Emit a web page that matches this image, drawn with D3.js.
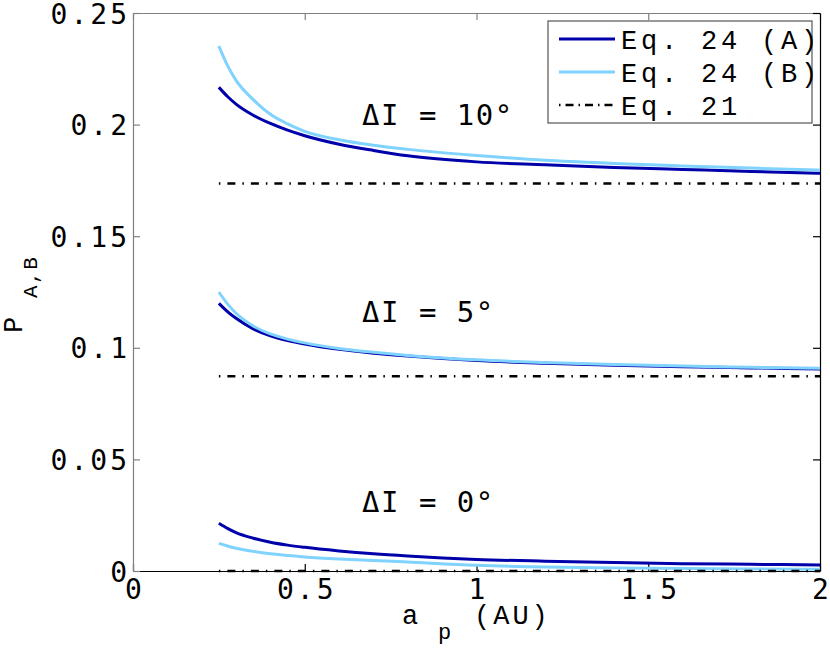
<!DOCTYPE html>
<html>
<head>
<meta charset="utf-8">
<script src="https://cdn.jsdelivr.net/npm/d3@7"></script>
<style>
  body { margin: 0; background: #fff; }
  svg { display: block; }
</style>
</head>
<body>
<svg></svg>
<script>
// semi-major axis of the planet (AU)
let ap = [0.25, 0.275, 0.3, 0.35, 0.4, 0.45, 0.5, 0.6, 0.7, 0.8, 1.0, 1.2, 1.4, 1.6, 1.8, 2.0]

// Eq. 24 (A), one array per inclination difference
let eq24A_0  = [0.0214, 0.0191, 0.0172, 0.0147, 0.0129, 0.0116, 0.0106, 0.0090, 0.0077, 0.0067, 0.0052, 0.0044, 0.0038, 0.0033, 0.0030, 0.0027]
let eq24A_5  = [0.1199, 0.1162, 0.1132, 0.1085, 0.1054, 0.1033, 0.1017, 0.0993, 0.0976, 0.0963, 0.0943, 0.0931, 0.0922, 0.0915, 0.0910, 0.0905]
let eq24A_10 = [0.2167, 0.2126, 0.2092, 0.2042, 0.2005, 0.1975, 0.1950, 0.1912, 0.1884, 0.1860, 0.1833, 0.1820, 0.1808, 0.1799, 0.1790, 0.1782]

// Eq. 24 (B)
let eq24B_0  = [0.0124, 0.0112, 0.0102, 0.0088, 0.0077, 0.0069, 0.0063, 0.0054, 0.0047, 0.0040, 0.0026, 0.0018, 0.0014, 0.0011, 0.0009, 0.0008]
let eq24B_5  = [0.1249, 0.1197, 0.1155, 0.1098, 0.1062, 0.1039, 0.1022, 0.0997, 0.0980, 0.0966, 0.0946, 0.0934, 0.0925, 0.0918, 0.0913, 0.0908]
let eq24B_10 = [0.2352, 0.2265, 0.2198, 0.2112, 0.2046, 0.2003, 0.1970, 0.1932, 0.1907, 0.1889, 0.1862, 0.1840, 0.1826, 0.1815, 0.1805, 0.1796]

// Eq. 21 (flat) for each inclination difference
let deltaI = [0, 5, 10]
let eq21 = [0, 0.0872, 0.1736]

let xTicks = [0, 0.5, 1, 1.5, 2]
let xTickLabels = ['0', '0.5', '1', '1.5', '2']
let yTicks = [0, 0.05, 0.1, 0.15, 0.2, 0.25]
let yTickLabels = ['0', '0.05', '0.1', '0.15', '0.2', '0.25']

let legendLabels = ['Eq. 24 (A)', 'Eq. 24 (B)', 'Eq. 21']

let width = 830
let height = 648
let plotLeft = 133, plotRight = 820, plotTop = 13, plotBottom = 571

let darkBlue = '#0000aa'
let lightBlue = '#80d2ff'
let tickFont = 'DejaVu Sans Mono'
let labelFont = 'Liberation Mono'

let xScale = d3.scaleLinear().domain([0, 2]).range([plotLeft, plotRight])
let yScale = d3.scaleLinear().domain([0, 0.25]).range([plotBottom, plotTop])

let svg = d3.select('svg')
    .attr('width', width)
    .attr('height', height)

svg.append('rect')
    .attr('width', width)
    .attr('height', height)
    .attr('fill', '#fff')

// axes (ticks point inward, like MATLAB)
let styleAxis = (g, color) => {
  g.select('.domain').attr('stroke', color).attr('stroke-width', 1.2)
  g.selectAll('.tick line').attr('stroke', color).attr('stroke-width', 1.2)
  g.selectAll('text')
    .attr('fill', '#000')
    .style('font-family', tickFont)
    .style('font-size', '28px')
    .style('letter-spacing', '3px')
}

svg.append('g')
    .attr('transform', `translate(0, ${plotBottom})`)
    .call(d3.axisBottom(xScale).tickValues(xTicks).tickFormat((d, i) => xTickLabels[i])
      .tickSizeInner(-7).tickSizeOuter(0).tickPadding(8))
    .call(g => styleAxis(g, '#000'))
    .selectAll('text').attr('dx', '1.5px')

svg.append('g')
    .attr('transform', `translate(0, ${plotTop})`)
    .call(d3.axisTop(xScale).tickValues(xTicks).tickFormat('')
      .tickSizeInner(-7).tickSizeOuter(0))
    .call(g => styleAxis(g, '#808080'))

svg.append('g')
    .attr('transform', `translate(${plotLeft}, 0)`)
    .call(d3.axisLeft(yScale).tickValues(yTicks).tickFormat((d, i) => yTickLabels[i])
      .tickSizeInner(-7).tickSizeOuter(0).tickPadding(3))
    .call(g => styleAxis(g, '#808080'))
    .selectAll('text').attr('dy', '0.36em')

svg.append('g')
    .attr('transform', `translate(${plotRight}, 0)`)
    .call(d3.axisRight(yScale).tickValues(yTicks).tickFormat('')
      .tickSizeInner(-7).tickSizeOuter(0))
    .call(g => styleAxis(g, '#000'))

// curves
let line = d3.line()
    .x(d => xScale(d[0]))
    .y(d => yScale(d[1]))
    .curve(d3.curveMonotoneX)

let seriesA = [eq24A_0, eq24A_5, eq24A_10]
let seriesB = [eq24B_0, eq24B_5, eq24B_10]

svg.append('g')
  .selectAll('path')
  .data(seriesA)
  .enter()
  .append('path')
    .attr('d', s => line(s.map((v, i) => [ap[i], v])))
    .attr('fill', 'none')
    .attr('stroke', darkBlue)
    .attr('stroke-width', 3)

svg.append('g')
  .selectAll('path')
  .data(seriesB)
  .enter()
  .append('path')
    .attr('d', s => line(s.map((v, i) => [ap[i], v])))
    .attr('fill', 'none')
    .attr('stroke', lightBlue)
    .attr('stroke-width', 3)

svg.append('g')
  .selectAll('line')
  .data(eq21)
  .enter()
  .append('line')
    .attr('x1', xScale(ap[0]))
    .attr('x2', xScale(ap[ap.length - 1]))
    .attr('y1', d => yScale(d))
    .attr('y2', d => yScale(d))
    .attr('stroke', '#000')
    .attr('stroke-width', 2.5)
    .attr('stroke-dasharray', '1.5,7,8,7')

// ΔI labels
let labelY = [512, 322, 125]
svg.append('g')
  .selectAll('text')
  .data(deltaI)
  .enter()
  .append('text')
    .attr('x', 362)
    .attr('y', (d, i) => labelY[i])
    .style('font-family', tickFont)
    .style('font-size', '29px')
    .style('letter-spacing', '1.5px')
    .text(d => `ΔI = ${d}°`)

// axis labels
let xLabel = svg.append('text')
    .attr('y', 624)
    .style('font-family', labelFont)
    .style('font-size', '27px')
xLabel.append('tspan').attr('x', 402).text('a')
xLabel.append('tspan').attr('x', 438).attr('y', 639).style('font-size', '22px').text('p')
xLabel.append('tspan').attr('x', 474).attr('y', 624).style('letter-spacing', '3px').text('(AU)')

let yLabel = svg.append('text')
    .attr('transform', 'rotate(-90)')
    .style('font-family', labelFont)
    .style('font-size', '27px')
yLabel.append('tspan').attr('x', -333).attr('y', 22).text('P')
yLabel.append('tspan').attr('x', -298).attr('y', 37).style('font-size', '21px')
    .style('letter-spacing', '1.5px').text('A,B')

// legend
let legend = svg.append('g')
legend.append('rect')
    .attr('x', 548)
    .attr('y', 21)
    .attr('width', 264)
    .attr('height', 102)
    .attr('fill', '#fff')
    .attr('stroke', '#555')
    .attr('stroke-width', 1.2)

let legendStroke = [darkBlue, lightBlue, '#000']
let legendDash = [null, null, '1.5,5,8,5']
let rowY = d3.scaleLinear().domain([0, 2]).range([39, 105])

let rows = legend.selectAll('g.row')
  .data(legendLabels)
  .enter()
  .append('g')
    .attr('class', 'row')
    .attr('transform', (d, i) => `translate(0, ${rowY(i)})`)

rows.append('line')
    .attr('x1', 559)
    .attr('x2', 615)
    .attr('stroke', (d, i) => legendStroke[i])
    .attr('stroke-width', (d, i) => i === 2 ? 2.5 : 3)
    .attr('stroke-dasharray', (d, i) => legendDash[i])

rows.append('text')
    .attr('x', 621)
    .attr('y', 10)
    .style('font-family', labelFont)
    .style('font-size', '27px')
    .style('letter-spacing', '3.8px')
    .text(d => d)
</script>
</body>
</html>
